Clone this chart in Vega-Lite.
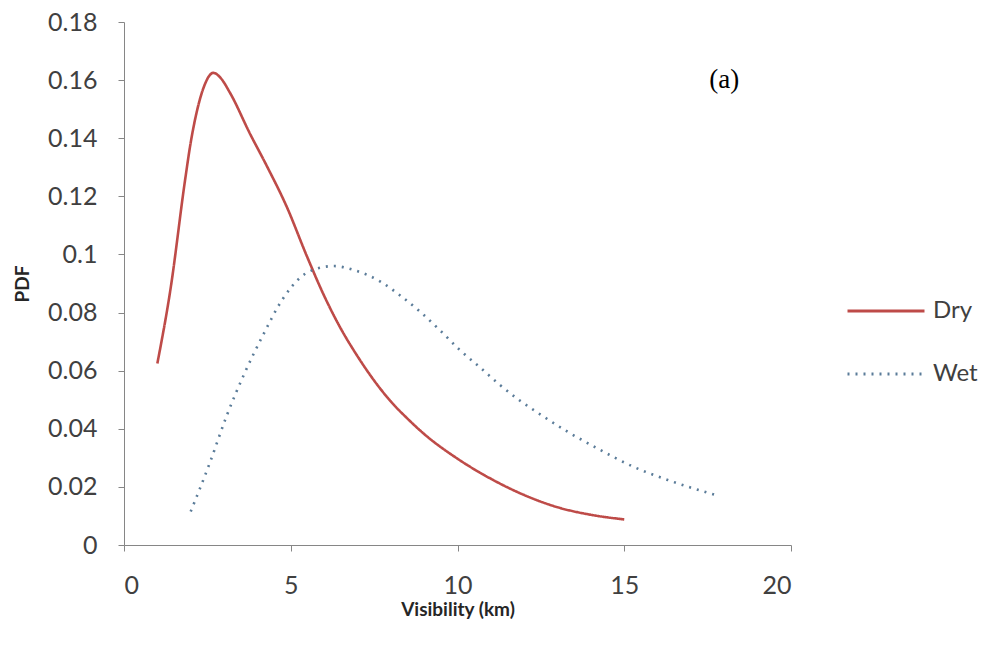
{
  "$schema": "https://vega.github.io/schema/vega-lite/v6.json",
  "width": 667,
  "height": 523,
  "autosize": {"type": "none"},
  "padding": {"left": 124, "top": 22, "right": 194, "bottom": 110},
  "background": "white",
  "config": {
    "view": {"stroke": null},
    "font": "Lato"
  },
  "datasets": {
    "curves": [
      {"series": "Dry", "visibility": 1.0, "pdf": 0.0625},
      {"series": "Dry", "visibility": 1.4, "pdf": 0.0885},
      {"series": "Dry", "visibility": 1.83, "pdf": 0.1255},
      {"series": "Dry", "visibility": 2.0, "pdf": 0.1385},
      {"series": "Dry", "visibility": 2.18, "pdf": 0.149},
      {"series": "Dry", "visibility": 2.38, "pdf": 0.1572},
      {"series": "Dry", "visibility": 2.68, "pdf": 0.1625},
      {"series": "Dry", "visibility": 2.9, "pdf": 0.1607},
      {"series": "Dry", "visibility": 3.18, "pdf": 0.1556},
      {"series": "Dry", "visibility": 3.78, "pdf": 0.1415},
      {"series": "Dry", "visibility": 4.28, "pdf": 0.1305},
      {"series": "Dry", "visibility": 4.88, "pdf": 0.1164},
      {"series": "Dry", "visibility": 5.48, "pdf": 0.0995},
      {"series": "Dry", "visibility": 6.0, "pdf": 0.0858},
      {"series": "Dry", "visibility": 6.5, "pdf": 0.0745},
      {"series": "Dry", "visibility": 7.0, "pdf": 0.065},
      {"series": "Dry", "visibility": 7.5, "pdf": 0.0566},
      {"series": "Dry", "visibility": 8.0, "pdf": 0.0494},
      {"series": "Dry", "visibility": 8.5, "pdf": 0.0435},
      {"series": "Dry", "visibility": 9.0, "pdf": 0.0382},
      {"series": "Dry", "visibility": 10.0, "pdf": 0.0297},
      {"series": "Dry", "visibility": 11.0, "pdf": 0.0228},
      {"series": "Dry", "visibility": 12.0, "pdf": 0.0172},
      {"series": "Dry", "visibility": 13.0, "pdf": 0.013},
      {"series": "Dry", "visibility": 14.0, "pdf": 0.0104},
      {"series": "Dry", "visibility": 15.0, "pdf": 0.0088},
      {"series": "Wet", "visibility": 2.0, "pdf": 0.0115},
      {"series": "Wet", "visibility": 2.58, "pdf": 0.0285},
      {"series": "Wet", "visibility": 3.08, "pdf": 0.0445},
      {"series": "Wet", "visibility": 3.63, "pdf": 0.0595},
      {"series": "Wet", "visibility": 4.18, "pdf": 0.0725},
      {"series": "Wet", "visibility": 4.75, "pdf": 0.0845},
      {"series": "Wet", "visibility": 5.3, "pdf": 0.0922},
      {"series": "Wet", "visibility": 5.8, "pdf": 0.0952},
      {"series": "Wet", "visibility": 6.3, "pdf": 0.096},
      {"series": "Wet", "visibility": 6.9, "pdf": 0.0946},
      {"series": "Wet", "visibility": 7.7, "pdf": 0.0906},
      {"series": "Wet", "visibility": 8.3, "pdf": 0.0857},
      {"series": "Wet", "visibility": 8.9, "pdf": 0.0801},
      {"series": "Wet", "visibility": 9.5, "pdf": 0.0736},
      {"series": "Wet", "visibility": 10.07, "pdf": 0.0671},
      {"series": "Wet", "visibility": 10.7, "pdf": 0.0609},
      {"series": "Wet", "visibility": 11.27, "pdf": 0.0551},
      {"series": "Wet", "visibility": 11.8, "pdf": 0.0503},
      {"series": "Wet", "visibility": 12.37, "pdf": 0.0458},
      {"series": "Wet", "visibility": 13.3, "pdf": 0.039},
      {"series": "Wet", "visibility": 14.2, "pdf": 0.0332},
      {"series": "Wet", "visibility": 15.3, "pdf": 0.0268},
      {"series": "Wet", "visibility": 16.3, "pdf": 0.0224},
      {"series": "Wet", "visibility": 17.8, "pdf": 0.017}
    ],
    "note": [{"label": "(a)", "x": 18, "y": 0.16}]
  },
  "layer": [
    {
      "data": {"name": "curves"},
      "mark": {"type": "line", "interpolate": "monotone", "strokeWidth": 2.6, "strokeCap": "butt"},
      "encoding": {
        "x": {
          "field": "visibility", "type": "quantitative",
          "scale": {"domain": [0, 20], "nice": false, "zero": false},
          "axis": {
            "title": "Visibility (km)",
            "values": [0, 5, 10, 15, 20],
            "grid": false,
            "domainColor": "#868686", "tickColor": "#868686",
            "tickSize": 6,
            "labelFontSize": 25, "labelColor": "#404040", "labelFont": "Lato",
            "labelPadding": 22,
            "titleFontSize": 19, "titleFontWeight": "bold", "titleColor": "#262626", "titleFont": "Lato",
            "titlePadding": 2
          }
        },
        "y": {
          "field": "pdf", "type": "quantitative",
          "scale": {"domain": [0, 0.18], "nice": false},
          "axis": {
            "title": "PDF",
            "values": [0, 0.02, 0.04, 0.06, 0.08, 0.1, 0.12, 0.14, 0.16, 0.18],
            "format": "~g",
            "grid": false,
            "domainColor": "#868686", "tickColor": "#868686",
            "tickSize": 6,
            "labelFontSize": 25, "labelColor": "#404040", "labelFont": "Lato",
            "labelPadding": 21,
            "titleFontSize": 19, "titleFontWeight": "bold", "titleColor": "#262626", "titleFont": "Lato",
            "titlePadding": 15
          }
        },
        "color": {
          "field": "series", "type": "nominal",
          "scale": {"domain": ["Dry", "Wet"], "range": ["#BE4B48", "#5B7C99"]},
          "legend": {
            "title": null,
            "orient": "none",
            "legendX": 722,
            "legendY": 249,
            "symbolType": "stroke",
            "symbolSize": 5929,
            "symbolStrokeWidth": 2.8,
            "labelFontSize": 24,
            "labelColor": "#404040",
            "labelFont": "Lato",
            "labelOffset": 7,
            "rowPadding": 11
          }
        },
        "strokeDash": {
          "field": "series", "type": "nominal",
          "scale": {"domain": ["Dry", "Wet"], "range": [[1, 0], [2, 6]]},
          "legend": {
            "title": null,
            "orient": "none",
            "legendX": 722,
            "legendY": 249,
            "symbolType": "stroke",
            "symbolSize": 5929,
            "symbolStrokeWidth": 2.8,
            "labelFontSize": 24,
            "labelColor": "#404040",
            "labelFont": "Lato",
            "labelOffset": 7,
            "rowPadding": 11
          }
        }
      }
    },
    {
      "data": {"name": "note"},
      "mark": {"type": "text", "font": "Liberation Serif", "fontSize": 27, "color": "black", "align": "center", "baseline": "middle"},
      "encoding": {
        "x": {"field": "x", "type": "quantitative"},
        "y": {"field": "y", "type": "quantitative"},
        "text": {"field": "label"}
      }
    }
  ]
}
